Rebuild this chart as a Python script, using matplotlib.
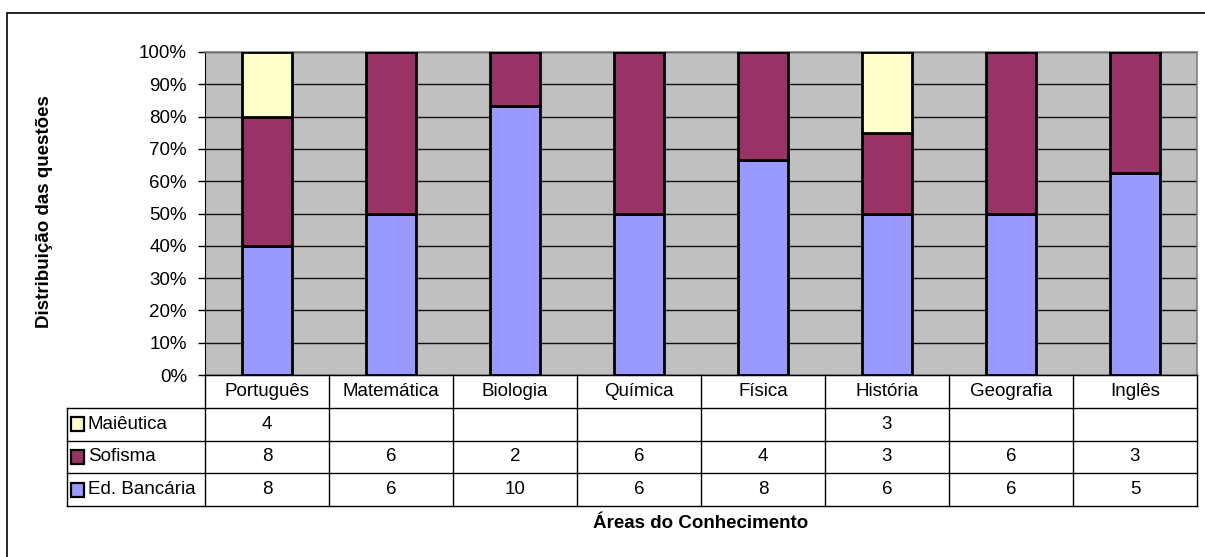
import matplotlib.pyplot as plt
import matplotlib.patches as patches
import numpy as np

plt.rcParams['font.family'] = ['Liberation Sans', 'DejaVu Sans']

# data
areas = ['Português', 'Matemática', 'Biologia', 'Química', 'Física', 'História', 'Geografia', 'Inglês']
series = ['Maiêutica', 'Sofisma', 'Ed. Bancária']
maieutica = [4, None, None, None, None, 3, None, None]
sofisma = [8, 6, 2, 6, 4, 3, 6, 3]
bancaria = [8, 6, 10, 6, 8, 6, 6, 5]
cores = {'Maiêutica': '#FFFFCC', 'Sofisma': '#993366', 'Ed. Bancária': '#9999FF'}
yticks = [0, 10, 20, 30, 40, 50, 60, 70, 80, 90, 100]

W, H = 1205, 557
fs = 13.5
fig = plt.figure(figsize=(W / 100, H / 100), dpi=100)

def px(x0, y0, x1, y1):
    # pixel box -> figure fraction [left, bottom, width, height]
    return [x0 / W, 1 - y1 / H, (x1 - x0) / W, (y1 - y0) / H]

# outer border (right and bottom fall outside the picture)
fig.patches.append(patches.Rectangle((7.3 / W, -0.1), 1.2, 1.1 - 12.7 / H,
                                     transform=fig.transFigure, fill=False,
                                     edgecolor='black', linewidth=1.2))

# main chart
ax = fig.add_axes(px(205, 52, 1197, 375))
ax.set_facecolor('#C0C0C0')

m = np.array([v if v is not None else 0 for v in maieutica], dtype=float)
s = np.array(sofisma, dtype=float)
b = np.array(bancaria, dtype=float)
tot = m + s + b
pb = b / tot * 100
ps = s / tot * 100
pm = m / tot * 100

x = np.arange(len(areas))
bw = 0.41
ax.set_axisbelow(True)
ax.yaxis.grid(True, color='#111111', linewidth=1)
ax.bar(x, pb, bw, color=cores['Ed. Bancária'], edgecolor='black', linewidth=2, zorder=3)
ax.bar(x, ps, bw, bottom=pb, color=cores['Sofisma'], edgecolor='black', linewidth=2, zorder=3)
mask = pm > 0
ax.bar(x[mask], pm[mask], bw, bottom=(pb + ps)[mask], color=cores['Maiêutica'],
       edgecolor='black', linewidth=2, zorder=3)

ax.set_xlim(-0.5, len(areas) - 0.5)
ax.set_ylim(0, 100)
ax.set_yticks(yticks)
ax.set_yticklabels([f'{t}%' for t in yticks], fontsize=fs)
ax.tick_params(axis='y', direction='out', length=5, width=1, pad=8, color='black')
ax.set_xticks([])
for sp in ['top', 'right']:
    ax.spines[sp].set_color('#808080')
    ax.spines[sp].set_linewidth(1.2)
ax.spines['left'].set_color('black')
ax.spines['bottom'].set_color('black')

# data table
lw = (205 - 67) / 124.0
tab = fig.add_axes(px(67, 375, 1197, 506))
tab.set_xlim(-lw, len(areas))
tab.set_ylim(4, 0)
tab.axis('off')

n = len(areas)
# horizontal lines
tab.plot([0, n], [0, 0], color='black', linewidth=1, clip_on=False)
for r in [1, 2, 3, 4]:
    tab.plot([-lw, n], [r, r], color='black', linewidth=1, clip_on=False)
# vertical lines
tab.plot([-lw, -lw], [1, 4], color='black', linewidth=1, clip_on=False)
for c in range(n + 1):
    tab.plot([c, c], [0, 4], color='black', linewidth=1, clip_on=False)

for i, a in enumerate(areas):
    tab.text(i + 0.5, 0.5, a, ha='center', va='center', fontsize=fs)

rows = [maieutica, sofisma, bancaria]
for r, (nome, vals) in enumerate(zip(series, rows), start=1):
    tab.add_patch(patches.Rectangle((-lw + 4 / 124, r + 0.29), 13 / 124, 0.42,
                                    facecolor=cores[nome], edgecolor='black', linewidth=1.6))
    tab.text(-lw + 21 / 124, r + 0.5, nome, ha='left', va='center', fontsize=fs)
    for i, v in enumerate(vals):
        if v is not None:
            tab.text(i + 0.5, r + 0.5, str(v), ha='center', va='center', fontsize=fs)

# axis titles
fig.text(45 / W, 1 - 212 / H, 'Distribuição das questões', rotation=90, ha='center',
         va='center', fontsize=fs, fontweight='bold')
fig.text(701 / W, 1 - 524 / H, 'Áreas do Conhecimento', ha='center', va='center',
         fontsize=fs, fontweight='bold')

plt.savefig('out.png', dpi=100)
